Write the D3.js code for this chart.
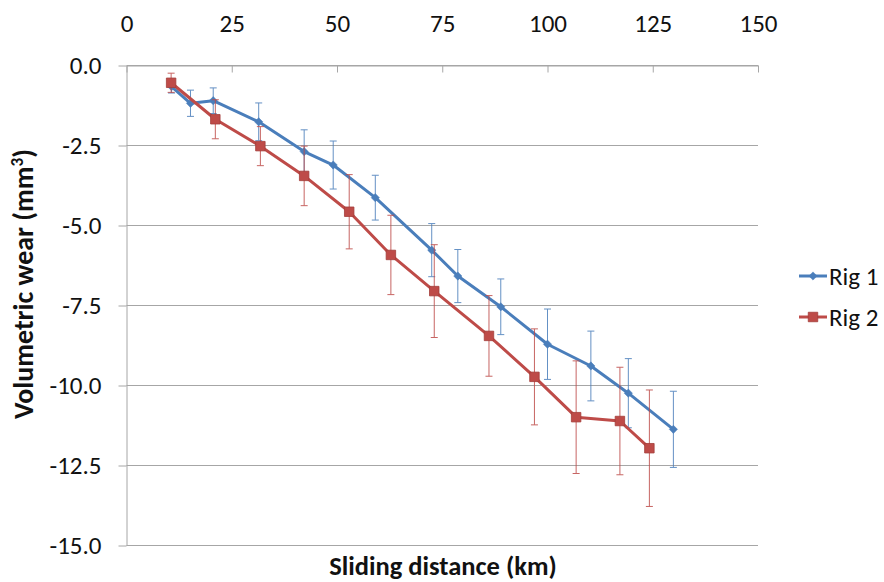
<!DOCTYPE html>
<html><head><meta charset="utf-8">
<script src="https://cdn.jsdelivr.net/npm/d3@7"></script>
<style>body{margin:0;background:#fff}</style>
</head><body>
<svg id="c" width="884" height="582"></svg>
<script>
// ---- data ----
const xTicks = [0, 25, 50, 75, 100, 125, 150];
const yTicks = [0, -2.5, -5, -7.5, -10, -12.5, -15];
const seriesNames = ["Rig 1", "Rig 2"];
const seriesColors = ["#4a7ebb", "#be4b48"];
const rig1Distance = [10.7, 15.2, 20.6, 31.4, 42.2, 49.1, 59.1, 72.5, 78.7, 88.9, 100.0, 110.3, 119.2, 129.9];
const rig1Wear     = [-0.66, -1.18, -1.10, -1.76, -2.69, -3.11, -4.13, -5.77, -6.58, -7.54, -8.71, -9.39, -10.24, -11.37];
const rig1Error    = [0.20, 0.41, 0.40, 0.59, 0.68, 0.75, 0.70, 0.83, 0.83, 0.87, 1.10, 1.09, 1.08, 1.19];
const rig2Distance = [10.6, 21.1, 31.8, 42.2, 52.9, 62.8, 73.1, 86.1, 96.9, 106.8, 117.2, 124.2];
const rig2Wear     = [-0.54, -1.68, -2.52, -3.45, -4.57, -5.92, -7.05, -8.45, -9.73, -10.99, -11.11, -11.96];
const rig2Error    = [0.30, 0.61, 0.61, 0.93, 1.16, 1.24, 1.45, 1.26, 1.50, 1.76, 1.68, 1.82];

const series = [
  {name: seriesNames[0], color: seriesColors[0], marker: "diamond",
   pts: rig1Distance.map((d, i) => ({x: d, y: rig1Wear[i], e: rig1Error[i]}))},
  {name: seriesNames[1], color: seriesColors[1], marker: "square",
   pts: rig2Distance.map((d, i) => ({x: d, y: rig2Wear[i], e: rig2Error[i]}))}
];

const FONT = "Carlito, Calibri, 'Open Sans', sans-serif";
const TICK_FS = 25, TITLE_FS = 26.5, YTITLE_FS = 28;
const svg = d3.select("#c");
const x = d3.scaleLinear().domain([0, 150]).range([126.5, 758]);
const y = d3.scaleLinear().domain([0, -15]).range([65.5, 545.5]);

// gridlines
svg.append("g").selectAll("line").data(yTicks).join("line")
  .attr("x1", x(0)).attr("x2", x(150))
  .attr("y1", d => y(d)).attr("y2", d => y(d))
  .attr("stroke", "#a6a6a6").attr("stroke-width", 1);

// left axis
const gy = svg.append("g").attr("transform", `translate(${x(0)},0)`)
  .call(d3.axisLeft(y).tickValues(yTicks).tickSizeInner(8).tickSizeOuter(0).tickPadding(17)
    .tickFormat(d => d.toFixed(1)));
gy.select(".domain").attr("stroke", "#a6a6a6");
gy.selectAll(".tick line").attr("stroke", "#a6a6a6");
gy.selectAll("text").attr("font-family", FONT).attr("font-size", TICK_FS).attr("fill", "#111");

// top axis (x axis crossing at 0)
const gx = svg.append("g").attr("transform", `translate(0,${y(0)})`)
  .call(d3.axisTop(x).tickValues(xTicks).tickSizeInner(-7).tickSizeOuter(0).tickPadding(34)
    .tickFormat(d => String(d)));
gx.select(".domain").attr("stroke", "#a6a6a6");
gx.selectAll(".tick line").attr("stroke", "#a6a6a6");
gx.selectAll("text").attr("font-family", FONT).attr("font-size", TICK_FS).attr("fill", "#111");

// axis titles
svg.append("text").attr("x", 443).attr("y", 575).attr("text-anchor", "middle")
  .attr("font-family", FONT).attr("font-size", TITLE_FS).attr("font-weight", "bold").attr("fill", "#111")
  .text("Sliding distance (km)");
const yt = svg.append("text").attr("transform", "translate(33,284) rotate(-90)")
  .attr("text-anchor", "middle")
  .attr("font-family", FONT).attr("font-size", YTITLE_FS).attr("font-weight", "bold").attr("fill", "#111");
yt.append("tspan").text("Volumetric wear (mm");
yt.append("tspan").attr("font-size", 17).attr("dy", -10).text("3");
yt.append("tspan").attr("dy", 10).text(")");

const line = d3.line().x(d => x(d.x)).y(d => y(d.y));
function drawMarker(g, type, color) {
  if (type === "diamond") {
    g.append("path").attr("d", d3.symbol(d3.symbolSquare, 34)()).attr("transform", "rotate(45)")
      .attr("fill", color).attr("stroke", color).attr("stroke-width", 0.5);
  } else {
    g.append("path").attr("d", d3.symbol(d3.symbolSquare, 90)())
      .attr("fill", color).attr("stroke", "#a33d3a").attr("stroke-width", 0.8);
  }
}

series.forEach(s => {
  const g = svg.append("g");
  // error bars
  const eb = g.append("g").attr("stroke", s.color).attr("stroke-width", 1).attr("opacity", 0.85);
  s.pts.forEach(p => {
    const xp = x(p.x), y1 = y(p.y + p.e), y2 = y(p.y - p.e);
    eb.append("line").attr("x1", xp).attr("x2", xp).attr("y1", y1).attr("y2", y2);
    eb.append("line").attr("x1", xp - 3.5).attr("x2", xp + 3.5).attr("y1", y1).attr("y2", y1);
    eb.append("line").attr("x1", xp - 3.5).attr("x2", xp + 3.5).attr("y1", y2).attr("y2", y2);
  });
  g.append("path").datum(s.pts).attr("d", line).attr("fill", "none")
    .attr("stroke", s.color).attr("stroke-width", 3).attr("stroke-linejoin", "round");
  s.pts.forEach(p => {
    const m = g.append("g").attr("transform", `translate(${x(p.x)},${y(p.y)})`);
    drawMarker(m, s.marker, s.color);
  });
});

// legend
const legY = [276, 317];
series.forEach((s, i) => {
  const g = svg.append("g").attr("transform", `translate(0,${legY[i]})`);
  g.append("line").attr("x1", 799).attr("x2", 827).attr("y1", 0).attr("y2", 0)
    .attr("stroke", s.color).attr("stroke-width", 3);
  const m = g.append("g").attr("transform", "translate(813,0)");
  drawMarker(m, s.marker, s.color);
  g.append("text").attr("x", 829).attr("y", 0).attr("dy", "0.34em")
    .attr("font-family", FONT).attr("font-size", TICK_FS).attr("fill", "#111").text(s.name);
});
</script>
</body></html>
